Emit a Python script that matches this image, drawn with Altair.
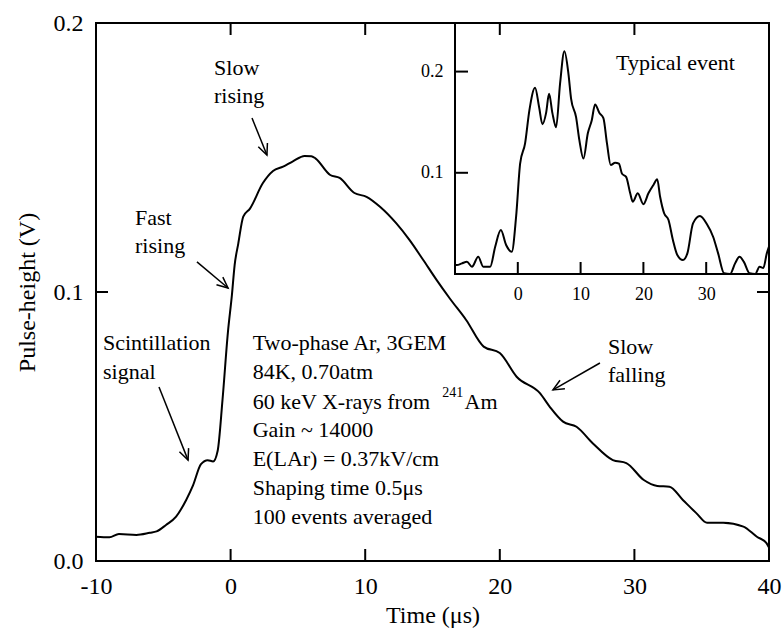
import math
import altair as alt
import pandas as pd

# ---------------- data ----------------
main_t = [-10, -9.0, -8.3, -7.0, -6.0, -5.5, -4.8, -4.05, -3.3, -2.8, -2.2, -1.7, -1.3, -0.96,
          -0.6, -0.2, 0.1, 0.3, 0.57, 0.94, 1.44, 2.4, 3.15, 3.9, 4.6, 5.5, 6.0, 6.3, 7.4, 8.1,
          9.2, 10.1, 11.1, 12.3, 13.3, 14.3, 15.3, 16.3, 17.5, 18.8, 20.0, 21.25, 22.98, 23.7,
          24.7, 25.7, 26.9, 28.4, 29.4, 30.7, 31.7, 32.6, 33.6, 34.6, 35.4, 36.6, 38.1, 39.1,
          39.8, 40.0]
main_v = [0.0090, 0.0088, 0.0100, 0.0097, 0.0105, 0.0110, 0.0134, 0.0165, 0.0227, 0.0280,
          0.0360, 0.0375, 0.0370, 0.0410, 0.0600, 0.0850, 0.0990, 0.1100, 0.1180, 0.1280,
          0.1310, 0.1405, 0.1450, 0.1466, 0.1485, 0.1506, 0.1505, 0.1497, 0.1435, 0.1424,
          0.1368, 0.1354, 0.1317, 0.1256, 0.1193, 0.1120, 0.1045, 0.0975, 0.0896, 0.0797,
          0.0773, 0.0685, 0.0624, 0.0574, 0.0518, 0.0499, 0.0438, 0.0375, 0.0364, 0.0301,
          0.0279, 0.0276, 0.0227, 0.0178, 0.0142, 0.0142, 0.0128, 0.0090, 0.0067, 0.0050]

inset_t = [-10, -9.7, -8.9, -8.1, -7.3, -6.3, -5.5, -4.4, -3.6, -2.7, -1.86, -0.96, -0.27,
           0.37, 1.16, 1.85, 2.75, 3.39, 3.92, 4.5, 4.98, 5.51, 6.1, 6.73, 7.42, 8.06, 8.49,
           9.28, 9.81, 10.45, 11.15, 11.78, 12.3, 13.0, 13.63, 14.2, 14.8, 15.5, 16.1, 16.6,
           17.25, 17.9, 18.3, 19.1, 20.0, 20.8, 21.6, 22.2, 22.66, 23.3, 24.0, 24.7, 25.4,
           26.3, 27.0, 27.9, 29.0, 30.1, 31.1, 31.9, 32.85, 33.8, 34.6, 35.3, 36.0, 36.9,
           37.8, 38.5, 39.1, 39.65, 40.0]
inset_v = [0.0090, 0.0089, 0.0105, 0.0120, 0.0072, 0.0170, 0.0072, 0.0072, 0.0270, 0.0434,
           0.0286, 0.0220, 0.0566, 0.1090, 0.1290, 0.1620, 0.1840, 0.1650, 0.1480, 0.1590,
           0.1780, 0.1590, 0.1450, 0.1880, 0.2200, 0.1980, 0.1730, 0.1550, 0.1320, 0.1140,
           0.1390, 0.1520, 0.1675, 0.1590, 0.1540, 0.1290, 0.1076, 0.1100, 0.1090, 0.0990,
           0.0960, 0.0797, 0.0714, 0.0797, 0.0690, 0.0797, 0.0880, 0.0935, 0.0763, 0.0600,
           0.0533, 0.0336, 0.0188, 0.0138, 0.0204, 0.0500, 0.0573, 0.0494, 0.0368, 0.0204,
           0.0007, 0.0000, 0.0105, 0.0170, 0.0120, 0.0007, 0.0000, 0.0072, 0.0060, 0.0204,
           0.0270]

x_tick_labels = [-10, 0, 10, 20, 30, 40]
y_tick_labels = [0.0, 0.1, 0.2]
x_inner_ticks = [0, 10, 20, 30]
y_inner_ticks = [0.1]
inset_x_ticks = [0, 10, 20, 30]
inset_y_ticks = [0.1, 0.2]

info_lines = ["Two-phase Ar, 3GEM", "84K, 0.70atm", "60 keV X-rays from", "Gain ~ 14000",
              "E(LAr) = 0.37kV/cm", "Shaping time 0.5\u03bcs", "100 events averaged"]
info_y = [0.0810, 0.0703, 0.0591, 0.0487, 0.0379, 0.0271, 0.0164]

label_text = ["Scintillation", "signal", "Fast", "rising", "Slow", "rising", "Slow", "falling"]
label_x = [-9.48, -9.48, -7.1, -7.1, -1.23, -1.23, 28.04, 28.04]
label_y = [0.0810, 0.0703, 0.1275, 0.1171, 0.1833, 0.1729, 0.0796, 0.0691]

arrow_x1 = [-5.32, -2.50, 1.59, 27.44]
arrow_y1 = [0.0647, 0.1112, 0.1647, 0.0736]
arrow_x2 = [-3.16, -0.19, 2.70, 23.95]
arrow_y2 = [0.0375, 0.1015, 0.1509, 0.0636]

# ---------------- layout ----------------
W, H = 673, 538
XD = [-10, 40]
YD = [0, 0.2]
IYD = [0, 0.248]
IX0, IX1, IY0, IY1 = 359, 673, 0, 251
FONT = "Liberation Serif"


def xs():
    return alt.Scale(domain=XD, nice=False, zero=False)


def ys():
    return alt.Scale(domain=YD, nice=False, zero=False)


def ixs():
    return alt.Scale(domain=XD, range=[IX0, IX1], nice=False, zero=False)


def iys():
    return alt.Scale(domain=IYD, range=[IY1, IY0], nice=False, zero=False)


def text_layer(df, scx, scy, size, align="left"):
    return alt.Chart(df).mark_text(align=align, baseline="middle", font=FONT, fontSize=size,
                                   color="black").encode(
        x=alt.X("t:Q", scale=scx, axis=None), y=alt.Y("v:Q", scale=scy, axis=None), text="txt:N")


main_df = pd.DataFrame({"t": main_t, "v": main_v})
main_line = alt.Chart(main_df).mark_line(color="black", strokeWidth=2, interpolate="monotone").encode(
    x=alt.X("t:Q", scale=xs(), axis=alt.Axis(values=x_tick_labels, labelExpr="'' + datum.value",
                                             orient="bottom", title="Time (\u03bcs)",
                                             labelFontSize=24, titleFontSize=24, labelFlush=False,
                                             labelPadding=13, titlePadding=5)),
    y=alt.Y("v:Q", scale=ys(), axis=alt.Axis(values=y_tick_labels, format=".1f", orient="left",
                                             title="Pulse-height (V)", labelFontSize=24,
                                             labelFlush=False,
                                             titleFontSize=24, labelPadding=13, titlePadding=14)),
)

info_df = pd.DataFrame({"t": [1.64] * len(info_lines), "v": info_y, "txt": info_lines})
info_text = text_layer(info_df, xs(), ys(), 22)
sup_text = text_layer(pd.DataFrame({"t": [17.28], "v": [0.0625], "txt": ["241"]}), xs(), ys(), 14,
                      align="right")
am_text = text_layer(pd.DataFrame({"t": [17.38], "v": [0.0591], "txt": ["Am"]}), xs(), ys(), 22)
lab_text = text_layer(pd.DataFrame({"t": label_x, "v": label_y, "txt": label_text}), xs(), ys(), 22)

px_per_x = W / (XD[1] - XD[0])
px_per_y = H / (YD[1] - YD[0])
angles = []
for a, b, c, d in zip(arrow_x1, arrow_y1, arrow_x2, arrow_y2):
    angles.append(math.degrees(math.atan2(-(d - b) * px_per_y, (c - a) * px_per_x)) % 360)
arr_df = pd.DataFrame({"t": arrow_x1, "v": arrow_y1, "t2": arrow_x2, "v2": arrow_y2, "ang": angles})
arrow_lines = alt.Chart(arr_df).mark_rule(color="black", strokeWidth=1.5).encode(
    x=alt.X("t:Q", scale=xs(), axis=None), y=alt.Y("v:Q", scale=ys(), axis=None),
    x2="t2:Q", y2="v2:Q")
arrow_heads = alt.Chart(arr_df).mark_point(shape="M-1,-0.45L0,0L-1,0.45", filled=False,
                                           stroke="black", strokeWidth=1.5, opacity=1).encode(
    x=alt.X("t2:Q", scale=xs(), axis=None), y=alt.Y("v2:Q", scale=ys(), axis=None),
    angle=alt.Angle("ang:Q", scale=None), size=alt.value(480))

# ---------------- inset ----------------
box = alt.Chart(pd.DataFrame({"k": [0]})).mark_rect(fill="white", stroke="black", strokeWidth=2).encode(
    x=alt.value(IX0), x2=alt.value(IX1), y=alt.value(IY0), y2=alt.value(IY1))
inset_df = pd.DataFrame({"t": inset_t, "v": inset_v})
inset_line = alt.Chart(inset_df).mark_line(color="black", strokeWidth=2, interpolate="monotone").encode(
    x=alt.X("t:Q", scale=ixs(), axis=alt.Axis(values=inset_x_ticks, orient="bottom",
                                              offset=-(H - IY1), labelFontSize=18, labelFlush=False,
                                              labelPadding=11, title=None)),
    y=alt.Y("v:Q", scale=iys(), axis=alt.Axis(values=inset_y_ticks, orient="left", offset=-IX0,
                                              format=".1f", labelFontSize=18, labelPadding=12,
                                              labelFlush=False, title=None)),
)
inset_xt = alt.Chart(pd.DataFrame({"t": inset_x_ticks})).mark_rule(color="black", strokeWidth=2).encode(
    x=alt.X("t:Q", scale=ixs(), axis=None), y=alt.value(IY1), y2=alt.value(IY1 - 12))
inset_yt = alt.Chart(pd.DataFrame({"v": inset_y_ticks})).mark_rule(color="black", strokeWidth=2).encode(
    y=alt.Y("v:Q", scale=iys(), axis=None), x=alt.value(IX0), x2=alt.value(IX0 + 13))
typ_text = text_layer(pd.DataFrame({"t": [15.65], "v": [0.2083], "txt": ["Typical event"]}),
                      ixs(), iys(), 22)

# ---------------- main frame ticks (inward, all four sides) ----------------
xt_df = pd.DataFrame({"t": x_inner_ticks})
yt_df = pd.DataFrame({"v": y_inner_ticks})
xt_bottom = alt.Chart(xt_df).mark_rule(color="black", strokeWidth=2).encode(
    x=alt.X("t:Q", scale=xs(), axis=None), y=alt.value(H), y2=alt.value(H - 12))
xt_top = alt.Chart(xt_df).mark_rule(color="black", strokeWidth=2).encode(
    x=alt.X("t:Q", scale=xs(), axis=None), y=alt.value(0), y2=alt.value(12))
yt_left = alt.Chart(yt_df).mark_rule(color="black", strokeWidth=2).encode(
    y=alt.Y("v:Q", scale=ys(), axis=None), x=alt.value(0), x2=alt.value(12))
yt_right = alt.Chart(yt_df).mark_rule(color="black", strokeWidth=2).encode(
    y=alt.Y("v:Q", scale=ys(), axis=None), x=alt.value(W), x2=alt.value(W - 12))

chart = alt.layer(
    main_line, info_text, sup_text, am_text, lab_text, arrow_lines, arrow_heads,
    box, inset_line, inset_xt, inset_yt, typ_text,
    xt_bottom, xt_top, yt_left, yt_right,
).resolve_scale(
    x="independent", y="independent"
).properties(
    width=W, height=H, autosize=alt.AutoSizeParams(type="none"),
    padding={"left": 96, "top": 23, "right": 14, "bottom": 74},
    background="white",
).configure_view(
    stroke="black", strokeWidth=2
).configure_axis(
    labelFont=FONT, titleFont=FONT, labelColor="black", titleColor="black",
    titleFontWeight="normal", grid=False, domain=False, ticks=False,
)

chart.save("out.html", embed_options={"renderer": "svg", "actions": False})
